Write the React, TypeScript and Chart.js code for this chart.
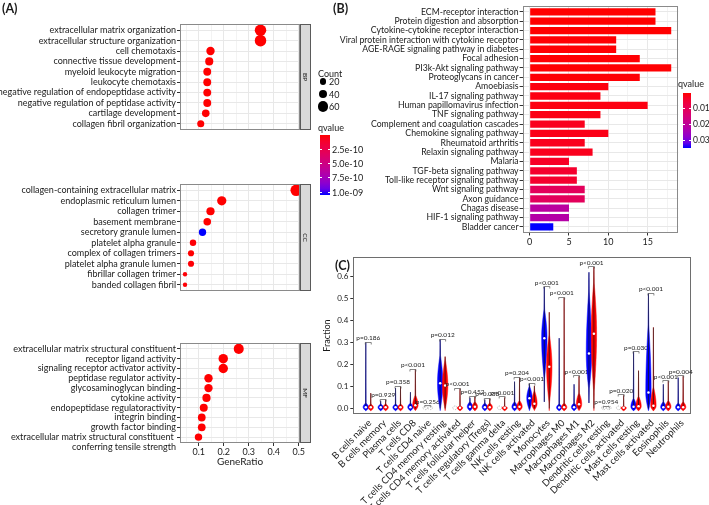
import React, { useEffect, useRef } from 'react';
import { Chart, registerables } from 'chart.js';

Chart.register(...registerables);

const FONT = 'Lato, "DejaVu Sans", sans-serif';
const TXT = '#1a1a1a';

// ---------------- Panel A data ----------------
const bpTerms = ['extracellular matrix organization', 'extracellular structure organization', 'cell chemotaxis', 'connective tissue development', 'myeloid leukocyte migration', 'leukocyte chemotaxis', 'negative regulation of endopeptidase activity', 'negative regulation of peptidase activity', 'cartilage development', 'collagen fibril organization'];
const bpRatio = [0.347, 0.347, 0.147, 0.142, 0.134, 0.134, 0.134, 0.134, 0.128, 0.108];
const bpCount = [74, 74, 36, 33, 31, 31, 31, 31, 28, 24];
const bpQ = [1e-20, 1e-20, 1e-14, 1e-13, 1e-13, 1e-13, 1e-12, 1e-12, 1e-12, 1e-12];

const ccTerms = ['collagen-containing extracellular matrix', 'endoplasmic reticulum lumen', 'collagen trimer', 'basement membrane', 'secretory granule lumen', 'platelet alpha granule', 'complex of collagen trimers', 'platelet alpha granule lumen', 'fibrillar collagen trimer', 'banded collagen fibril'];
const ccRatio = [0.49, 0.192, 0.147, 0.134, 0.115, 0.077, 0.069, 0.069, 0.045, 0.045];
const ccCount = [75, 45, 34, 28, 26, 19, 17, 17, 7, 7];
const ccQ = [1e-30, 1e-13, 1e-14, 1e-12, 1.05e-9, 1e-11, 1e-12, 1e-11, 1e-11, 1e-11];

const mfTerms = ['extracellular matrix structural constituent', 'receptor ligand activity', 'signaling receptor activator activity', 'peptidase regulator activity', 'glycosaminoglycan binding', 'cytokine activity', 'endopeptidase regulatoractivity', 'integrin binding', 'growth factor binding', 'extracellular matrix structural constituent \nconferring tensile strength'];
const mfRatio = [0.26, 0.198, 0.198, 0.139, 0.139, 0.131, 0.12, 0.112, 0.112, 0.099];
const mfCount = [54, 47, 47, 36, 36, 34, 32, 30, 30, 27];
const mfQ = [1e-20, 1e-14, 1e-14, 1e-12, 1e-12, 1e-12, 1e-12, 1e-12, 1e-12, 1e-12];

const geneRatioTicks = [0.05, 0.1, 0.15, 0.2, 0.25, 0.3, 0.35, 0.4, 0.45, 0.5];
const countBreaks = [20, 40, 60];
const qMaxA = 1.05e-9;
const qBreaksA = [2.5e-10, 5e-10, 7.5e-10, 1e-9];
const qLabelsA = ['2.5e-10', '5.0e-10', '7.5e-10', '1.0e-09'];

// ---------------- Panel B data ----------------
const keggTerms = ['ECM-receptor interaction', 'Protein digestion and absorption', 'Cytokine-cytokine receptor interaction', 'Viral protein interaction with cytokine receptor', 'AGE-RAGE signaling pathway in diabetes', 'Focal adhesion', 'PI3k-Akt signaling pathway', 'Proteoglycans in cancer', 'Amoebiasis', 'IL-17 signaling pathway', 'Human papillomavirus infection', 'TNF signaling pathway', 'Complement and coagulation cascades', 'Chemokine signaling pathway', 'Rheumatoid arthritis', 'Relaxin signaling pathway', 'Malaria', 'TGF-beta signaling pathway', 'Toll-like receptor signaling pathway', 'Wnt signaling pathway', 'Axon guidance', 'Chagas disease', 'HIF-1 signaling pathway', 'Bladder cancer'];
const keggCount = [16, 16, 18, 11, 11, 14, 18, 14, 10, 9, 15, 9, 7, 10, 7, 8, 5, 6, 6, 7, 7, 5, 5, 3];
const keggQ = [0.00001, 0.00001, 0.00001, 0.0002, 0.0002, 0.0002, 0.0001, 0.0003, 0.0008, 0.001, 0.001, 0.0012, 0.002, 0.0015, 0.002, 0.002, 0.003, 0.004, 0.004, 0.0105, 0.0105, 0.021, 0.022, 0.035];
const keggTicks = [0, 2.5, 5, 7.5, 10, 12.5, 15, 17.5];
const qMaxB = 0.035;
const qBreaksB = [0.01, 0.02, 0.03];
const qLabelsB = ['0.01', '0.02', '0.03'];

// ---------------- Panel C data ----------------
const cellTypes = ['B cells naive', 'B cells memory', 'Plasma cells', 'T cells CD8', 'T cells CD4 naive', 'T cells CD4 memory resting', 'T cells CD4 memory activated', 'T cells follicular helper', 'T cells regulatory (Tregs)', 'T cells gamma delta', 'NK cells resting', 'NK cells activated', 'Monocytes', 'Macrophages M0', 'Macrophages M1', 'Macrophages M2', 'Dendritic cells resting', 'Dendritic cells activated', 'Mast cells resting', 'Mast cells activated', 'Eosinophils', 'Neutrophils'];
const pValues = [0.186, 0.929, 0.358, 0.0005, 0.256, 0.012, 0.0005, 0.452, 0.038, 0.0005, 0.204, 0.0005, 0.0005, 0.0005, 0.0005, 0.0005, 0.954, 0.020, 0.030, 0.0005, 0.0005, 0.004];
// [min, body low, median, body high, max]
const lowGroup = [
  [-0.01, -0.01, 0.006, 0.024, 0.30],
  [-0.01, -0.01, 0.005, 0.02, 0.035],
  [-0.01, -0.01, 0.005, 0.02, 0.093],
  [-0.01, -0.01, 0.006, 0.024, 0.074],
  [-0.004, -0.004, 0.001, 0.006, 0.008],
  [-0.01, 0.0, 0.115, 0.24, 0.314],
  [-0.004, -0.004, 0.001, 0.006, 0.008],
  [-0.01, -0.01, 0.008, 0.03, 0.049],
  [-0.01, -0.01, 0.006, 0.024, 0.04],
  [-0.004, -0.004, 0.001, 0.006, 0.008],
  [-0.01, -0.01, 0.007, 0.03, 0.122],
  [-0.01, -0.005, 0.047, 0.1, 0.113],
  [0.03, 0.14, 0.32, 0.45, 0.553],
  [-0.01, -0.01, 0.004, 0.02, 0.32],
  [-0.01, -0.01, 0.006, 0.024, 0.11],
  [0.025, 0.09, 0.25, 0.53, 0.62],
  [-0.004, -0.004, 0.001, 0.006, 0.008],
  [-0.004, -0.004, 0.001, 0.006, 0.008],
  [-0.01, -0.01, 0.008, 0.045, 0.258],
  [-0.01, -0.005, 0.073, 0.38, 0.523],
  [-0.01, -0.01, 0.006, 0.03, 0.11],
  [-0.01, -0.01, 0.005, 0.024, 0.14],
];
const highGroup = [
  [-0.01, -0.01, 0.005, 0.02, 0.07],
  [-0.01, -0.01, 0.005, 0.02, 0.04],
  [-0.01, -0.01, 0.005, 0.02, 0.099],
  [-0.01, -0.008, 0.015, 0.06, 0.177],
  [-0.004, -0.004, 0.001, 0.006, 0.01],
  [-0.01, 0.0, 0.104, 0.22, 0.236],
  [-0.01, -0.01, 0.003, 0.012, 0.09],
  [-0.01, -0.01, 0.008, 0.03, 0.054],
  [-0.01, -0.01, 0.006, 0.024, 0.045],
  [-0.01, -0.01, 0.003, 0.01, 0.05],
  [-0.01, -0.01, 0.008, 0.035, 0.14],
  [-0.01, -0.006, 0.022, 0.08, 0.103],
  [-0.01, 0.03, 0.19, 0.333, 0.438],
  [-0.01, -0.01, 0.005, 0.024, 0.504],
  [-0.01, -0.008, 0.019, 0.07, 0.147],
  [-0.01, 0.08, 0.34, 0.57, 0.644],
  [-0.004, -0.004, 0.001, 0.006, 0.008],
  [-0.01, -0.01, 0.003, 0.01, 0.06],
  [-0.01, -0.01, 0.01, 0.055, 0.172],
  [-0.01, -0.01, 0.012, 0.096, 0.369],
  [-0.01, -0.01, 0.008, 0.035, 0.125],
  [-0.01, -0.01, 0.006, 0.03, 0.147],
];
const fractionTicks = [0, 0.1, 0.2, 0.3, 0.4, 0.5, 0.6];

// ---------------- colour helpers (CIELAB ramp red -> blue) ----------------
const lin = (c: number) => { c /= 255; return c <= 0.04045 ? c / 12.92 : Math.pow((c + 0.055) / 1.055, 2.4); };
const delin = (c: number) => { const v = c <= 0.0031308 ? 12.92 * c : 1.055 * Math.pow(c, 1 / 2.4) - 0.055; return Math.round(Math.max(0, Math.min(1, v)) * 255); };
const Xn = 0.95047, Zn = 1.08883;
function rgb2lab(rgb: number[]) {
  const R = lin(rgb[0]), G = lin(rgb[1]), B = lin(rgb[2]);
  const X = (0.4124 * R + 0.3576 * G + 0.1805 * B) / Xn;
  const Y = 0.2126 * R + 0.7152 * G + 0.0722 * B;
  const Z = (0.0193 * R + 0.1192 * G + 0.9505 * B) / Zn;
  const f = (t: number) => (t > 0.008856 ? Math.cbrt(t) : 7.787 * t + 16 / 116);
  const fx = f(X), fy = f(Y), fz = f(Z);
  return [116 * fy - 16, 500 * (fx - fy), 200 * (fy - fz)];
}
function lab2rgb(lab: number[]) {
  const fy = (lab[0] + 16) / 116, fx = fy + lab[1] / 500, fz = fy - lab[2] / 200;
  const finv = (t: number) => (t * t * t > 0.008856 ? t * t * t : (t - 16 / 116) / 7.787);
  const X = finv(fx) * Xn, Y = finv(fy), Z = finv(fz) * Zn;
  return [
    delin(3.2406 * X - 1.5372 * Y - 0.4986 * Z),
    delin(-0.9689 * X + 1.8758 * Y + 0.0415 * Z),
    delin(0.0557 * X - 0.204 * Y + 1.057 * Z),
  ];
}
const RED_LAB = rgb2lab([255, 0, 0]);
const BLUE_LAB = rgb2lab([0, 0, 255]);
function ramp(t: number) {
  const u = Math.max(0, Math.min(1, t));
  const c = lab2rgb(RED_LAB.map((v, i) => v + (BLUE_LAB[i] - v) * u));
  return `rgb(${c[0]},${c[1]},${c[2]})`;
}
const dotRadius = (c: number) => 0.6 + 0.6 * Math.sqrt(c);
const isMult = (v: number, step: number) => Math.abs(v / step - Math.round(v / step)) < 1e-6;

// ---------------- plugins ----------------
function framePlugin(strip?: string, extraLine?: string, extraIndex?: number) {
  return {
    id: 'frame',
    afterDraw(chart: any) {
      const { ctx, chartArea: a } = chart;
      ctx.save();
      ctx.strokeStyle = '#8a8a8a';
      ctx.lineWidth = 1;
      const L = Math.round(a.left), T = Math.round(a.top), R = Math.round(a.right), B = Math.round(a.bottom);
      ctx.strokeRect(L + 0.5, T + 0.5, R - L - 1, B - T - 1);
      if (strip) {
        const w = 11;
        ctx.fillStyle = '#d9d9d9';
        ctx.fillRect(R, T, w, B - T);
        ctx.strokeStyle = '#5a5a5a';
        ctx.strokeRect(R + 0.5, T + 0.5, w - 1, B - T - 1);
        ctx.translate(R + w / 2, (T + B) / 2);
        ctx.rotate(Math.PI / 2);
        ctx.fillStyle = TXT;
        ctx.font = `6.5px ${FONT}`;
        ctx.textAlign = 'center';
        ctx.textBaseline = 'middle';
        ctx.fillText(strip, 0, 0);
      }
      ctx.restore();
      if (extraLine && extraIndex !== undefined) {
        const yy = chart.scales.y.getPixelForValue(extraIndex) + 9.5;
        ctx.save();
        ctx.fillStyle = TXT;
        ctx.font = `9px ${FONT}`;
        ctx.textAlign = 'right';
        ctx.textBaseline = 'middle';
        ctx.fillText(extraLine, a.left - 4, yy);
        ctx.restore();
      }
    },
  };
}

function dotConfig(terms: string[], ratio: number[], count: number[], q: number[], strip: string, padTop: number, padBottom: number, showX: boolean) {
  const lastParts = terms[terms.length - 1].split('\n');
  const extra = lastParts.length > 1 ? lastParts[1] : undefined;
  return {
    type: 'scatter',
    data: {
      datasets: [{
        data: ratio.map((r, i) => ({ x: r, y: i })),
        pointRadius: count.map(dotRadius),
        pointHoverRadius: count.map(dotRadius),
        pointBackgroundColor: q.map((v) => ramp(v / qMaxA)),
        pointBorderWidth: 0,
      }],
    },
    options: {
      animation: false,
      responsive: false,
      events: [],
      layout: { padding: { left: 0, right: 15, top: padTop, bottom: padBottom } },
      plugins: { legend: { display: false }, tooltip: { enabled: false } },
      scales: {
        x: {
          type: 'linear', min: 0.025, max: 0.505,
          afterBuildTicks: (s: any) => { s.ticks = geneRatioTicks.map((v) => ({ value: v })); },
          afterFit: (s: any) => { s.height = showX ? 25 : 0; },
          ticks: {
            display: showX, autoSkip: false, maxRotation: 0, padding: 1, color: TXT,
            font: { family: FONT, size: 9 },
            callback: (v: number) => (isMult(v, 0.1) ? Number(v).toFixed(1) : ''),
          },
          grid: {
            color: (c: any) => (c.tick && isMult(c.tick.value, 0.1) ? '#e8e8e8' : '#f3f3f3'),
            drawTicks: showX, tickLength: 3,
            tickColor: (c: any) => (c.tick && isMult(c.tick.value, 0.1) ? '#333' : 'rgba(0,0,0,0)'),
          },
          border: { display: false },
          title: { display: showX, text: 'GeneRatio', color: TXT, font: { family: FONT, size: 10 }, padding: 0 },
        },
        y: {
          type: 'linear', reverse: true, min: -0.6, max: terms.length - 0.4,
          afterBuildTicks: (s: any) => { s.ticks = terms.map((_, i) => ({ value: i })); },
          afterFit: (s: any) => { s.width = 180; },
          ticks: {
            autoSkip: false, padding: 1, color: TXT, font: { family: FONT, size: 9 },
            callback: (v: number) => (terms[Math.round(v)] || '').split('\n')[0],
          },
          grid: { color: '#e8e8e8', tickLength: 3, tickColor: '#333' },
          border: { display: false },
        },
      },
    },
    plugins: [framePlugin(strip, extra, terms.length - 1)],
  };
}

function keggConfig() {
  return {
    type: 'bar',
    data: {
      datasets: [{
        data: keggCount.map((c, i) => ({ x: c, y: i })),
        backgroundColor: keggQ.map((v) => ramp(v / qMaxB)),
        borderWidth: 0,
        barPercentage: 0.78,
        categoryPercentage: 1,
      }],
    },
    options: {
      indexAxis: 'y',
      animation: false,
      responsive: false,
      events: [],
      layout: { padding: { left: 0, right: 30.7, top: 0.5, bottom: 3.5 } },
      plugins: { legend: { display: false }, tooltip: { enabled: false } },
      scales: {
        x: {
          type: 'linear', min: -0.9, max: 18.9, offset: false,
          afterBuildTicks: (s: any) => { s.ticks = keggTicks.map((v) => ({ value: v })); },
          afterFit: (s: any) => { s.height = 14; },
          ticks: {
            autoSkip: false, maxRotation: 0, padding: 1, color: TXT, font: { family: FONT, size: 9 },
            callback: (v: number) => (isMult(v, 5) ? String(Math.round(v)) : ''),
          },
          grid: {
            offset: false,
            color: (c: any) => (c.tick && isMult(c.tick.value, 5) ? '#e8e8e8' : '#f3f3f3'),
            tickLength: 3,
            tickColor: (c: any) => (c.tick && isMult(c.tick.value, 5) ? '#333' : 'rgba(0,0,0,0)'),
          },
          border: { display: false },
        },
        y: {
          type: 'linear', reverse: true, min: -0.6, max: keggTerms.length - 0.4, offset: false,
          afterBuildTicks: (s: any) => { s.ticks = keggTerms.map((_, i) => ({ value: i })); },
          afterFit: (s: any) => { s.width = 187.6; },
          ticks: {
            autoSkip: false, padding: 1, color: TXT, font: { family: FONT, size: 8.7 },
            callback: (v: number) => keggTerms[Math.round(v)] || '',
          },
          grid: { offset: false, color: '#e8e8e8', tickLength: 3, tickColor: '#333' },
          border: { display: false },
        },
      },
    },
    plugins: [framePlugin()],
  };
}

// ---------------- violin drawing ----------------
function halfWidth(v: number, s: number[], W: number) {
  const [mn, lo, md, up, mx] = s;
  if (v <= lo) { const t = lo > mn ? (v - mn) / (lo - mn) : 1; return W * 0.12 * t; }
  if (v <= md) { const t = (v - lo) / Math.max(md - lo, 1e-9); return W * (0.12 + 0.88 * Math.sin((t * Math.PI) / 2)); }
  if (v <= up) { const t = (v - md) / Math.max(up - md, 1e-9); return W * (0.12 + 0.88 * Math.cos((t * Math.PI) / 2)); }
  const t = (v - up) / Math.max(mx - up, 1e-9);
  return W * 0.12 * (1 - t);
}

function drawViolin(ctx: CanvasRenderingContext2D, xs: any, ys: any, pos: number, s: number[], color: string) {
  const cx = xs.getPixelForValue(pos);
  const [mn, , md, , mx] = s;
  if (mx < 0.015) {
    const cy = ys.getPixelForValue(0.003);
    ctx.save();
    ctx.setLineDash([1, 1]);
    ctx.strokeStyle = '#9a9a9a';
    ctx.lineWidth = 0.7;
    ctx.beginPath();
    ctx.ellipse(cx, cy, 2.3, 1.8, 0, 0, Math.PI * 2);
    ctx.stroke();
    ctx.restore();
    return;
  }
  const W = 2.7;
  const N = 120;
  const pts: number[][] = [];
  for (let k = 0; k <= N; k++) {
    const v = mn + ((mx - mn) * k) / N;
    pts.push([halfWidth(v, s, W), ys.getPixelForValue(v)]);
  }
  ctx.save();
  ctx.beginPath();
  pts.forEach(([w, py], k) => (k === 0 ? ctx.moveTo(cx - w, py) : ctx.lineTo(cx - w, py)));
  for (let k = pts.length - 1; k >= 0; k--) ctx.lineTo(cx + pts[k][0], pts[k][1]);
  ctx.closePath();
  ctx.fillStyle = color;
  ctx.fill();
  ctx.strokeStyle = color;
  ctx.lineWidth = 0.5;
  ctx.stroke();
  ctx.strokeStyle = 'rgba(20,20,20,0.85)';
  ctx.lineWidth = 0.8;
  ctx.beginPath();
  ctx.moveTo(cx, ys.getPixelForValue(mx));
  ctx.lineTo(cx, ys.getPixelForValue(Math.max(mn, 0)));
  ctx.stroke();
  ctx.fillStyle = '#ffffff';
  ctx.beginPath();
  ctx.arc(cx, ys.getPixelForValue(md), 1.25, 0, Math.PI * 2);
  ctx.fill();
  ctx.restore();
}

const violinPlugin = {
  id: 'violins',
  afterDraw(chart: any) {
    const { ctx, chartArea: a, scales } = chart;
    const xs = scales.x, ys = scales.y;
    ctx.save();
    ctx.strokeStyle = '#6e6e6e';
    ctx.lineWidth = 1;
    const L = Math.round(a.left), T = Math.round(a.top), R = Math.round(a.right), B = Math.round(a.bottom);
    ctx.strokeRect(L + 0.5, T + 0.5, R - L - 1, B - T - 1);
    cellTypes.forEach((_, i) => {
      drawViolin(ctx, xs, ys, 3 * i, lowGroup[i], '#0000ff');
      drawViolin(ctx, xs, ys, 3 * i + 1, highGroup[i], '#ff0000');
      const mx = Math.max(lowGroup[i][4], highGroup[i][4]);
      const yl = Math.round(ys.getPixelForValue(mx) - 1) + 0.5;
      const x1 = xs.getPixelForValue(3 * i - 0.1), x2 = xs.getPixelForValue(3 * i + 1.1);
      ctx.strokeStyle = '#555';
      ctx.lineWidth = 0.7;
      ctx.beginPath();
      ctx.moveTo(x1, yl + 2);
      ctx.lineTo(x1, yl);
      ctx.lineTo(x2, yl);
      ctx.lineTo(x2, yl + 2);
      ctx.stroke();
      const p = pValues[i];
      const label = p < 0.001 ? 'p<0.001' : `p=${p.toFixed(3)}`;
      ctx.fillStyle = '#222';
      ctx.font = `6.5px ${FONT}`;
      ctx.textAlign = 'center';
      ctx.textBaseline = 'middle';
      ctx.fillText(label, xs.getPixelForValue(3 * i + 0.5), ys.getPixelForValue(mx + 0.02));
    });
    ctx.restore();
  },
};

function violinConfig() {
  return {
    type: 'scatter',
    data: { datasets: [{ data: [], pointRadius: 0 }] },
    options: {
      animation: false,
      responsive: false,
      events: [],
      layout: { padding: { left: 22, right: 18.3, top: 2.7, bottom: 0 } },
      plugins: { legend: { display: false }, tooltip: { enabled: false } },
      scales: {
        x: {
          type: 'linear', min: -2.52, max: 65.52,
          afterBuildTicks: (s: any) => { s.ticks = cellTypes.map((_, i) => ({ value: 3 * i + 0.8 })); },
          afterFit: (s: any) => { s.height = 90.7; },
          ticks: {
            autoSkip: false, minRotation: 45, maxRotation: 45, padding: 3, color: TXT,
            font: { family: FONT, size: 9.5 },
            callback: (_v: number, i: number) => cellTypes[i],
          },
          grid: { display: false, drawTicks: false },
          border: { display: false },
        },
        y: {
          type: 'linear', min: -0.0266, max: 0.6906,
          afterBuildTicks: (s: any) => { s.ticks = fractionTicks.map((v) => ({ value: v })); },
          afterFit: (s: any) => { s.width = 31.3; },
          ticks: {
            autoSkip: false, padding: 2, color: TXT, font: { family: FONT, size: 8 },
            callback: (v: number) => Number(v).toFixed(1),
          },
          grid: { drawOnChartArea: false, tickLength: 3, tickColor: '#333' },
          border: { display: false },
          title: { display: true, text: 'Fraction', color: TXT, font: { family: FONT, size: 9 }, padding: 0 },
        },
      },
    },
    plugins: [violinPlugin],
  };
}

// ---------------- React components ----------------
function ChartBox({ left, top, width, height, make }: any) {
  const ref = useRef<HTMLCanvasElement>(null);
  useEffect(() => {
    const chart = new Chart(ref.current as HTMLCanvasElement, make());
    return () => chart.destroy();
  }, []);
  return <canvas ref={ref} width={width} height={height} style={{ position: 'absolute', left, top, width, height }} />;
}

function Txt({ x, y, size = 9, bold = false, children }: any) {
  const lh = Math.round(size * 1.25);
  return (
    <div style={{ position: 'absolute', left: x, top: y - lh / 2, font: `${bold ? 'bold ' : ''}${size}px ${FONT}`, lineHeight: `${lh}px`, whiteSpace: 'nowrap', color: TXT }}>
      {children}
    </div>
  );
}

function ColorBar({ left, top, width, height, max, breaks, labels, size = 9 }: any) {
  const stops = [0, 0.1, 0.2, 0.3, 0.4, 0.5, 0.6, 0.7, 0.8, 0.9, 1].map((t) => `${ramp(t)} ${t * 100}%`).join(',');
  return (
    <>
      <div style={{ position: 'absolute', left, top, width, height, background: `linear-gradient(to bottom, ${stops})` }} />
      {breaks.map((b: number, i: number) => {
        const y = top + (b / max) * height;
        return (
          <React.Fragment key={i}>
            <div style={{ position: 'absolute', left, top: y - 0.5, width: 2, height: 1, background: '#fff' }} />
            <div style={{ position: 'absolute', left: left + width - 2, top: y - 0.5, width: 2, height: 1, background: '#fff' }} />
            <Txt x={left + width + 2} y={y} size={size}>{labels[i]}</Txt>
          </React.Fragment>
        );
      })}
    </>
  );
}

export default function App() {
  return (
    <div style={{ position: 'fixed', left: 0, top: 0, width: 709, height: 505, background: '#fff', overflow: 'hidden' }}>
      <ChartBox left={0} top={0} width={315} height={140} make={() => dotConfig(bpTerms, bpRatio, bpCount, bpQ, 'BP', 24, 10, false)} />
      <ChartBox left={0} top={160} width={315} height={140} make={() => dotConfig(ccTerms, ccRatio, ccCount, ccQ, 'CC', 24, 9, false)} />
      <ChartBox left={0} top={320} width={315} height={160} make={() => dotConfig(mfTerms, mfRatio, mfCount, mfQ, 'MF', 23, 12, true)} />
      <ChartBox left={335} top={0} width={374} height={250} make={keggConfig} />
      <ChartBox left={300} top={250} width={409} height={255} make={violinConfig} />

      <Txt x={2} y={9} size={12.5} bold>(A)</Txt>
      <Txt x={333} y={9} size={12.5} bold>(B)</Txt>
      <Txt x={335} y={266} size={12.5} bold>(C)</Txt>

      {/* Count legend */}
      <Txt x={318} y={73}>Count</Txt>
      {countBreaks.map((c, i) => {
        const r = dotRadius(c);
        const cy = 81.5 + i * 12.5;
        return (
          <React.Fragment key={c}>
            <div style={{ position: 'absolute', left: 323 - r, top: cy - r, width: 2 * r, height: 2 * r, borderRadius: '50%', background: '#000' }} />
            <Txt x={329} y={cy}>{c}</Txt>
          </React.Fragment>
        );
      })}
      <Txt x={318} y={127}>qvalue</Txt>
      <ColorBar left={320} top={135} width={10} height={60} max={qMaxA} breaks={qBreaksA} labels={qLabelsA} />

      <Txt x={678} y={83}>qvalue</Txt>
      <ColorBar left={683} top={93} width={8} height={55} max={qMaxB} breaks={qBreaksB} labels={qLabelsB} size={8.5} />
    </div>
  );
}
